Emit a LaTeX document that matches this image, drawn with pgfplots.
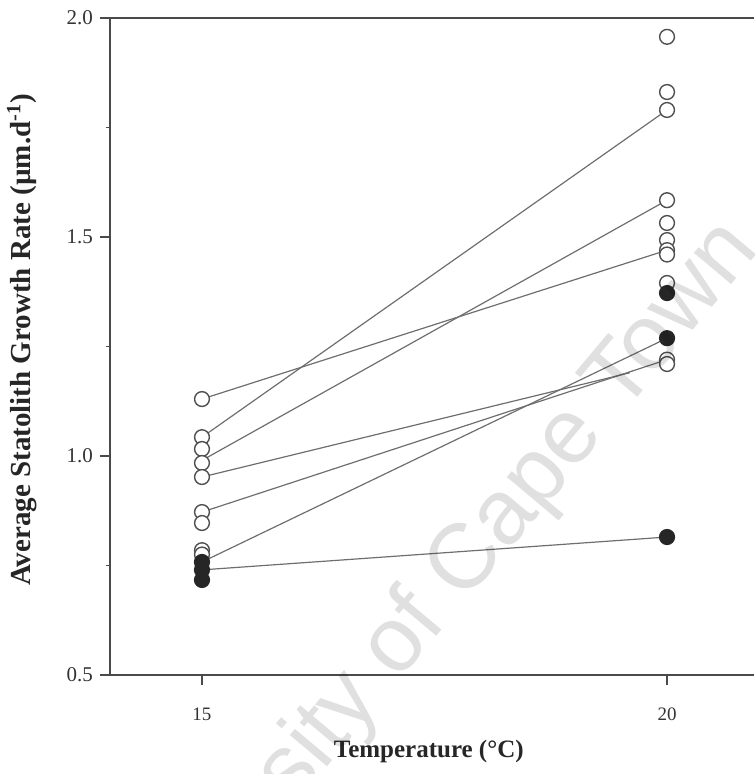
\documentclass[border=0pt]{standalone}
\usepackage{pgfplots}
\pgfplotsset{compat=1.18}
\usepackage{fontspec}
\setmainfont{Liberation Serif}
\newfontfamily\wmfont{Liberation Sans}
\definecolor{ln}{HTML}{6E6E6E}
\definecolor{mk}{HTML}{505050}
\definecolor{ax}{HTML}{4A4A4A}
\begin{document}
\begin{tikzpicture}
\begin{axis}[
  scale only axis, width=322pt, height=328.5pt,
  xmin=14.011, xmax=20.935, ymin=0.5, ymax=2.0,
  separate axis lines,
  axis x line*=box, axis y line*=left,
  xtick pos=bottom, ytick pos=left,
  axis line style={ax, line width=0.7pt},
  xtick={15,20}, ytick={0.5,1.0,1.5,2.0},
  minor ytick={0.75,1.25,1.75},
  tick align=outside, major tick length=5pt, minor tick length=2pt,
  every tick/.style={ax, line width=0.7pt},
  tick label style={font=\fontsize{9.5}{11}\selectfont, text=black!80},
  /pgf/number format/assume math mode=true,
  yticklabel style={/pgf/number format/fixed, /pgf/number format/fixed zerofill, /pgf/number format/precision=1, font=\fontsize{10.5}{12}\selectfont},
  xticklabel style={yshift=-8pt},
  label style={font=\fontsize{12.5}{14}\selectfont\bfseries, text=black!85},
  xlabel={Temperature (°C)},
  ylabel={Average Statolith Growth Rate (µm.d\textsuperscript{-1})},
  xlabel style={at={(axis description cs:0.495,-0.117)}, anchor=center},
  ylabel style={at={(axis description cs:-0.1366,0.51)}, anchor=center, font=\fontsize{14.5}{16}\selectfont\bfseries},
]
\coordinate (A) at (rel axis cs:0,0);
\coordinate (B) at (rel axis cs:1,1);
% connecting lines
\addplot[ln, line width=0.6pt] coordinates {(15,1.130) (20,1.470)};
\addplot[ln, line width=0.6pt] coordinates {(15,1.043) (20,1.790)};
\addplot[ln, line width=0.6pt] coordinates {(15,0.990) (20,1.584)};
\addplot[ln, line width=0.6pt] coordinates {(15,0.952) (19.6,1.190)};
\addplot[ln, line width=0.6pt] coordinates {(15,0.872) (20,1.220)};
\addplot[ln, line width=0.6pt] coordinates {(15,0.758) (20,1.269)};
\addplot[ln, line width=0.6pt] coordinates {(15,0.740) (20,0.815)};
% open circles
\addplot[only marks, mark=*, mark size=3.7pt, mark options={fill=white, draw=mk, line width=0.7pt}] coordinates {
(15,1.130) (15,1.043) (15,1.016) (15,0.984) (15,0.952) (15,0.872) (15,0.847) (15,0.785) (15,0.775)
(20,1.957) (20,1.831) (20,1.790) (20,1.584) (20,1.532) (20,1.493) (20,1.470) (20,1.460) (20,1.395) (20,1.220) (20,1.210)};
% filled circles
\addplot[only marks, mark=*, mark size=3.7pt, mark options={fill=black!85, draw=black!85, line width=0.7pt}] coordinates {
(15,0.758) (15,0.740) (15,0.717)
(20,1.372) (20,1.269) (20,0.815)};
\end{axis}
\begin{scope}
\clip ([shift={(-55pt,-49.5pt)}]A) rectangle ([shift={(0pt,9pt)}]B);
\node[rotate=50, anchor=base east, text=black, opacity=0.12, font=\fontsize{46}{46}\selectfont\wmfont] at ([shift={(327.5pt,215pt)}]A) {University of Cape Town};
\end{scope}
\pgfresetboundingbox
\useasboundingbox ([shift={(-55pt,-49.5pt)}]A) rectangle ([shift={(0pt,9pt)}]B);
\end{tikzpicture}
\end{document}
